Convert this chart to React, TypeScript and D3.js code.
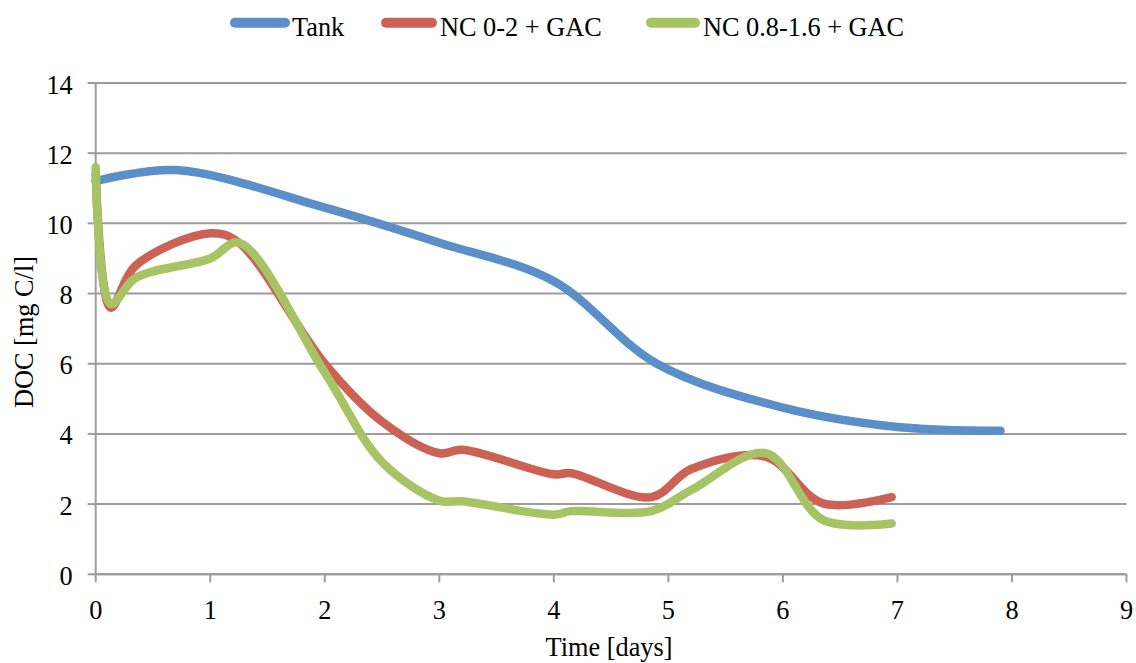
import React from "react";
import * as d3 from "d3";

const tankDays = [0, 0.7, 2, 3, 4, 4.9, 6, 7, 7.9];
const tankValues = [11.2, 11.52, 10.45, 9.45, 8.35, 6.0, 4.75, 4.2, 4.09];

const ncDays = [0, 0.13, 0.35, 1.0, 1.25, 2.0, 2.5, 3.0, 3.2, 4.0, 4.15, 4.85, 5.2, 5.85, 6.35, 6.95];
const nc02Values = [11.4, 7.6, 8.8, 9.72, 9.45, 6.0, 4.35, 3.45, 3.55, 2.85, 2.88, 2.2, 3.0, 3.35, 2.02, 2.2];
const nc0816Values = [11.6, 7.7, 8.45, 9.0, 9.45, 5.75, 3.2, 2.1, 2.08, 1.7, 1.8, 1.8, 2.4, 3.45, 1.55, 1.45];

const xTicks = [0, 1, 2, 3, 4, 5, 6, 7, 8, 9];
const yTicks = [0, 2, 4, 6, 8, 10, 12, 14];

const seriesNames = ["Tank", "NC 0-2 + GAC", "NC 0.8-1.6 + GAC"];
const seriesColors = ["#5B8FC9", "#CC6155", "#A6C464"];

const W = 1136;
const H = 663;
const left = 95.7;
const right = 1126.5;
const top = 83;
const bottom = 574.3;

const FONT = "'Liberation Serif', 'Times New Roman', serif";
const FS = 28;
const SX = 0.94;

export default function App() {
  const x = d3.scaleLinear().domain([0, 9]).range([left, right]);
  const y = d3.scaleLinear().domain([0, 14]).range([bottom, top]);
  const line = d3
    .line<[number, number]>()
    .x((d) => x(d[0]))
    .y((d) => y(d[1]))
    .curve(d3.curveCatmullRom.alpha(0.5));

  const series: [number, number][][] = [
    tankDays.map((d, i) => [d, tankValues[i]] as [number, number]),
    ncDays.map((d, i) => [d, nc02Values[i]] as [number, number]),
    ncDays.map((d, i) => [d, nc0816Values[i]] as [number, number]),
  ];

  const legendItems = [
    { x1: 230, x2: 290, tx: 292 },
    { x1: 381, x2: 437, tx: 440 },
    { x1: 646, x2: 700, tx: 703 },
  ];

  const grid = "#9C9C9C";

  return (
    <svg
      width={W}
      height={H}
      style={{ position: "absolute", left: 0, top: 0, background: "#fff" }}
      fontFamily={FONT}
    >
      <rect x={0} y={0} width={W} height={H} fill="#fff" />
      {yTicks.map((t) => (
        <line key={"g" + t} x1={left} x2={right} y1={y(t)} y2={y(t)} stroke={grid} strokeWidth={2} />
      ))}
      <line x1={left} x2={left} y1={top} y2={bottom} stroke={grid} strokeWidth={2} />
      {yTicks.map((t) => (
        <line key={"yt" + t} x1={left - 8} x2={left} y1={y(t)} y2={y(t)} stroke={grid} strokeWidth={2} />
      ))}
      {xTicks.map((t) => (
        <line key={"xt" + t} x1={x(t)} x2={x(t)} y1={bottom} y2={bottom + 8} stroke={grid} strokeWidth={2} />
      ))}
      {yTicks.map((t) => (
        <text
          key={"yl" + t}
          transform={`translate(${left - 23},${y(t) + 10.5}) scale(${SX},1)`}
          textAnchor="end"
          fontSize={FS}
          fill="#000"
        >
          {t}
        </text>
      ))}
      {xTicks.map((t) => (
        <text
          key={"xl" + t}
          transform={`translate(${x(t)},${619}) scale(${SX},1)`}
          textAnchor="middle"
          fontSize={FS}
          fill="#000"
        >
          {t}
        </text>
      ))}
      <text transform={`translate(609,656) scale(${SX},1)`} textAnchor="middle" fontSize={FS} fill="#000">
        Time [days]
      </text>
      <text
        transform={`translate(33,332) rotate(-90) scale(${SX},1)`}
        textAnchor="middle"
        fontSize={FS}
        fill="#000"
      >
        DOC [mg C/l]
      </text>
      {series.map((s, i) => (
        <path
          key={"s" + i}
          d={line(s) || ""}
          fill="none"
          stroke={seriesColors[i]}
          strokeWidth={8.5}
          strokeLinecap="round"
          strokeLinejoin="round"
        />
      ))}
      <line x1={left} x2={right} y1={bottom} y2={bottom} stroke={grid} strokeWidth={2} />
      {legendItems.map((l, i) => (
        <g key={"l" + i}>
          <line x1={l.x1 + 5} x2={l.x2 - 5} y1={22.7} y2={22.7} stroke={seriesColors[i]} strokeWidth={10} strokeLinecap="round" />
          <text transform={`translate(${l.tx},35.5) scale(${SX},1)`} fontSize={FS} fill="#000">
            {seriesNames[i]}
          </text>
        </g>
      ))}
    </svg>
  );
}
